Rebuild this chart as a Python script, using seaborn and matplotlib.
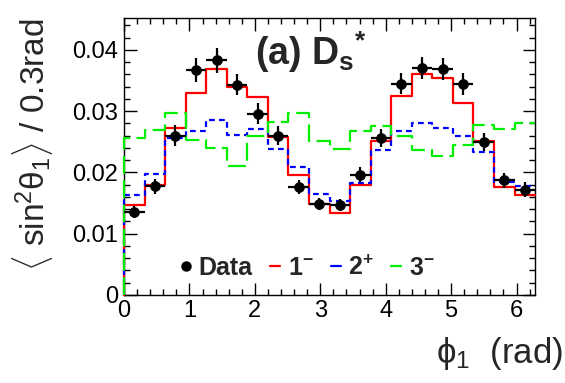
import numpy as np
import pandas as pd
import seaborn as sns
import matplotlib
matplotlib.use("Agg")
import matplotlib.pyplot as plt
from matplotlib.lines import Line2D
from matplotlib.ticker import MultipleLocator

# 20 bins over 0..2pi
n_bins = 20
edges = np.linspace(0, 2 * np.pi, n_bins + 1)
centers = 0.5 * (edges[:-1] + edges[1:])

data_vals = [0.0135, 0.0177, 0.0260, 0.0367, 0.0383, 0.0343, 0.0296, 0.0260, 0.0176, 0.0148,
             0.0147, 0.0196, 0.0256, 0.0345, 0.0371, 0.0368, 0.0345, 0.0250, 0.0187, 0.0172]
data_err = [0.0010, 0.0012, 0.0017, 0.0020, 0.0020, 0.0017, 0.0017, 0.0015, 0.0012, 0.0010,
            0.0010, 0.0012, 0.0015, 0.0017, 0.0018, 0.0018, 0.0018, 0.0015, 0.0012, 0.0012]
jp_1m = [0.0147, 0.0180, 0.0272, 0.0330, 0.0368, 0.0340, 0.0323, 0.0258, 0.0196, 0.0148,
         0.0133, 0.0180, 0.0252, 0.0325, 0.0361, 0.0354, 0.0314, 0.0252, 0.0176, 0.0163]
jp_2p = [0.0163, 0.0197, 0.0256, 0.0268, 0.0285, 0.0261, 0.0271, 0.0238, 0.0209, 0.0165,
         0.0153, 0.0183, 0.0237, 0.0267, 0.0280, 0.0272, 0.0260, 0.0233, 0.0185, 0.0178]
jp_3m = [0.0256, 0.0269, 0.0297, 0.0253, 0.0240, 0.0211, 0.0259, 0.0283, 0.0297, 0.0252,
         0.0238, 0.0267, 0.0276, 0.0260, 0.0237, 0.0227, 0.0245, 0.0278, 0.0271, 0.0280]

sns.set_style("ticks")
plt.rcParams["font.family"] = ["Liberation Sans", "DejaVu Sans"]
plt.rcParams["mathtext.fontset"] = "custom"
plt.rcParams["mathtext.rm"] = "Liberation Sans"
plt.rcParams["mathtext.it"] = "Liberation Sans"
plt.rcParams["mathtext.bf"] = "Liberation Sans:bold"

fig = plt.figure(figsize=(5.65, 3.83), dpi=100)
ax = fig.add_axes([0.2195, 0.230, 0.7275, 0.723])


def step_frame(vals):
    # outline of a ROOT style histogram, starting from zero at the left edge
    x = np.concatenate([[edges[0]], edges])
    y = np.concatenate([[0.0], vals, [vals[-1]]])
    return pd.DataFrame({"x": x, "y": y})


styles = [
    (jp_1m, "#ff0000", "-"),
    (jp_2p, "#0000ff", (0, (2.6, 1.9))),
    (jp_3m, "#00ee00", (0, (8, 2.9))),
]
for vals, col, ls in styles:
    df = step_frame(vals)
    sns.lineplot(data=df, x="x", y="y", ax=ax, color=col, linestyle=ls, lw=1.6,
                 drawstyle="steps-post", sort=False, estimator=None,
                 clip_on=False, zorder=3)

ax.errorbar(centers, data_vals, xerr=(edges[1] - edges[0]) / 2, yerr=data_err,
            fmt="none", ecolor="black", elinewidth=1.6, capsize=0, zorder=4)
sns.scatterplot(x=centers, y=data_vals, ax=ax, color="black", s=50,
                edgecolor="black", zorder=5)

ax.set_xlim(0, 2 * np.pi)
ax.set_ylim(0, 0.0452)
ax.xaxis.set_major_locator(MultipleLocator(1))
ax.xaxis.set_minor_locator(MultipleLocator(0.2))
ax.yaxis.set_major_locator(MultipleLocator(0.01))
ax.yaxis.set_minor_locator(MultipleLocator(0.002))
ax.set_xticks(range(7))
ax.set_xticklabels([str(i) for i in range(7)])
ax.set_yticks([0, 0.01, 0.02, 0.03, 0.04])
ax.set_yticklabels(["0", "0.01", "0.02", "0.03", "0.04"])
ax.tick_params(which="both", direction="in", top=True, right=True, width=1,
               labelsize=17, colors="black")
ax.tick_params(which="major", length=9, pad=4)
ax.tick_params(which="minor", length=4.5)
for sp in ax.spines.values():
    sp.set_visible(True)
    sp.set_linewidth(1.0)
    sp.set_color("black")

ax.set_xlabel("ϕ$_{1}$  (rad)", fontsize=25, ha="right", va="top")
ax.xaxis.set_label_coords(1.068, -0.145)
ax.set_ylabel(r"$\langle$ sin$^{2}$θ$_{1}\rangle$ / 0.3rad", fontsize=24, ha="right")
ax.yaxis.set_label_coords(-0.168, 1.0)

ax.text(0.319, 0.83, r"(a) D$_{\mathbf{s}}$$^{\mathbf{*}}$", transform=ax.transAxes,
        fontsize=27, fontweight="bold")

handles = [
    Line2D([], [], color="black", marker="o", markersize=6.5, lw=0),
    Line2D([], [], color="#ff0000", lw=1.6),
    Line2D([], [], color="#0000ff", lw=1.6),
    Line2D([], [], color="#00ee00", lw=1.6),
]
labels = ["Data", r"1$^{\mathbf{-}}$", r"2$^{\mathbf{+}}$", r"3$^{\mathbf{-}}$"]
ax.legend(handles, labels, loc="center", bbox_to_anchor=(0.447, 0.097), ncol=4,
          frameon=False, handlelength=0.4, handletextpad=0.3, columnspacing=0.7,
          prop={"weight": "bold", "size": 18})

fig.savefig("out.png", dpi=100)
